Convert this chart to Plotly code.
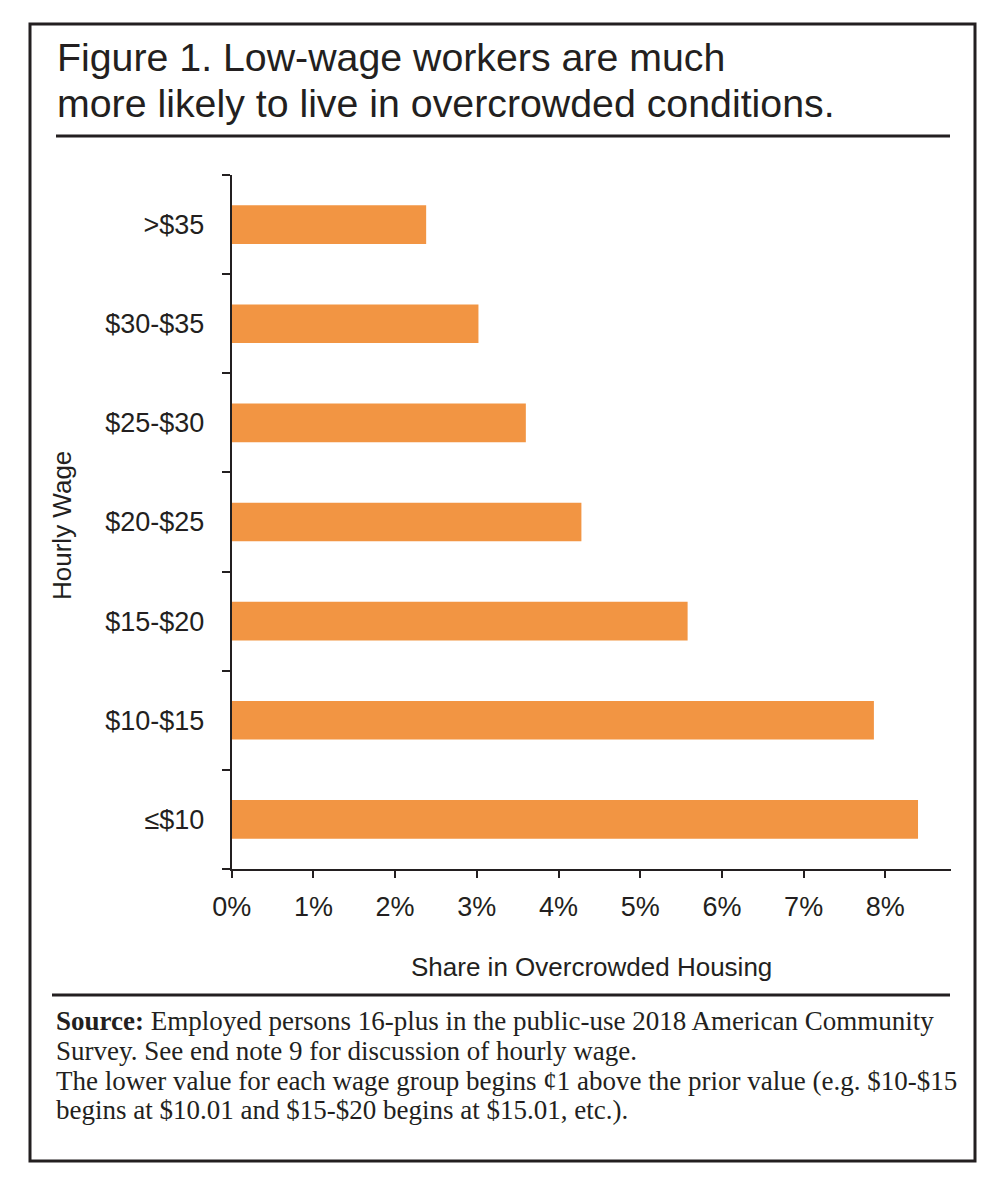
import plotly.graph_objects as go

# Target picture is 998x1182; the page body has an 8px margin, so the figure is
# made 16px smaller and every layout coordinate is shifted by that margin.
PAGE_W, PAGE_H = 998, 1182
OFF = 8
W, H = PAGE_W - 2 * OFF, PAGE_H - 2 * OFF

categories = ["≤$10", "$10-$15", "$15-$20", "$20-$25", "$25-$30", "$30-$35", ">$35"]
shares = [8.40, 7.86, 5.58, 4.28, 3.60, 3.02, 2.38]
x_tickvals = [0, 1, 2, 3, 4, 5, 6, 7, 8]
x_ticktext = ["0%", "1%", "2%", "3%", "4%", "5%", "6%", "7%", "8%"]

title_lines = [
    "Figure 1. Low-wage workers are much",
    "more likely to live in overcrowded conditions.",
]
note_lines = [
    "<b>Source:</b> Employed persons 16-plus in the public-use 2018 American Community",
    "Survey. See end note 9 for discussion of hourly wage.",
    "The lower value for each wage group begins ¢1 above the prior value (e.g. $10-$15",
    "begins at $10.01 and $15-$20 begins at $15.01, etc.).",
]
x_title = "Share in Overcrowded Housing"
y_title = "Hourly Wage"

INK = "#231f20"
BAR = "#f29543"
SANS = "Liberation Sans, Arial, sans-serif"
SERIF = "Liberation Serif, Times New Roman, serif"


def px(x):
    return (x - OFF) / W


def py(y):
    return 1 - (y - OFF) / H


fig = go.Figure(
    go.Bar(
        x=shares,
        y=categories,
        orientation="h",
        marker=dict(color=BAR, line=dict(width=0)),
        width=0.39,
        hoverinfo="skip",
    )
)

fig.update_layout(
    width=W,
    height=H,
    margin=dict(l=0, r=0, t=0, b=0, autoexpand=False),
    paper_bgcolor="white",
    plot_bgcolor="white",
    showlegend=False,
    font=dict(family=SANS, color=INK),
    xaxis=dict(
        domain=[px(231.7), px(950.7)],
        range=[0, 8.80],
        tickvals=x_tickvals,
        ticktext=x_ticktext,
        ticks="outside",
        ticklen=7,
        tickwidth=2,
        tickcolor=INK,
        showline=True,
        linecolor=INK,
        linewidth=2,
        showgrid=False,
        zeroline=False,
        automargin=False,
        tickfont=dict(size=27, color=INK, family=SANS),
        ticklabelstandoff=6,
        fixedrange=True,
    ),
    yaxis=dict(
        domain=[py(869), py(175)],
        type="category",
        categoryorder="array",
        categoryarray=categories,
        range=[-0.5, 6.5],
        tickson="boundaries",
        ticks="outside",
        ticklen=8,
        tickwidth=2,
        tickcolor=INK,
        showline=True,
        linecolor=INK,
        linewidth=2,
        showgrid=False,
        zeroline=False,
        automargin=False,
        tickfont=dict(size=27, color=INK, family=SANS),
        ticklabelstandoff=20,
        fixedrange=True,
    ),
)

shapes = [
    dict(type="rect", xref="paper", yref="paper", x0=px(30), x1=px(975), y0=py(1161), y1=py(24),
         line=dict(color=INK, width=3), fillcolor="rgba(0,0,0,0)", layer="above"),
    dict(type="line", xref="paper", yref="paper", x0=px(56), x1=px(950), y0=py(136), y1=py(136),
         line=dict(color=INK, width=3)),
    dict(type="line", xref="paper", yref="paper", x0=px(52), x1=px(950), y0=py(995), y1=py(995),
         line=dict(color=INK, width=3)),
]

annotations = []
for line, mid in zip(title_lines, [57, 103]):
    annotations.append(
        dict(text=line, xref="paper", yref="paper", x=px(55), y=py(mid), xanchor="left", yanchor="middle",
             align="left", showarrow=False, font=dict(size=39.3, family=SANS, color=INK))
    )

annotations += [
    dict(text=y_title, xref="paper", yref="paper", x=px(62), y=py(526), xanchor="center",
         yanchor="middle", textangle=-90, showarrow=False, font=dict(size=26, family=SANS, color=INK)),
    dict(text=x_title, xref="paper", yref="paper", x=px(591), y=py(967),
         xanchor="center", yanchor="middle", showarrow=False, font=dict(size=26, family=SANS, color=INK)),
]

for line, mid in zip(note_lines, [1021, 1051, 1081, 1110]):
    annotations.append(
        dict(text=line, xref="paper", yref="paper", x=px(54), y=py(mid), xanchor="left", yanchor="middle",
             align="left", showarrow=False, font=dict(size=27, family=SERIF, color=INK))
    )

fig.update_layout(shapes=shapes, annotations=annotations)

fig.write_html("out.html")
